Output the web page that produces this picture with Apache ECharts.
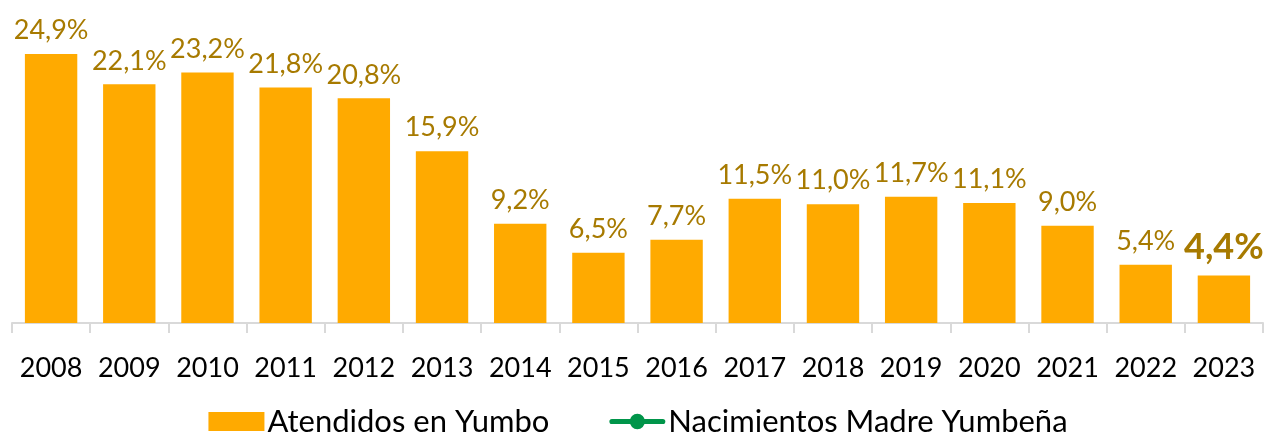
<!DOCTYPE html>
<html><head><meta charset="utf-8">
<script src="https://cdn.jsdelivr.net/npm/echarts@6/dist/echarts.min.js"></script>
<style>html,body{margin:0;padding:0;background:#fff}#c{width:1276px;height:442px}</style>
</head><body><div id="c"></div>
<script>
const years = ['2008','2009','2010','2011','2012','2013','2014','2015','2016','2017','2018','2019','2020','2021','2022','2023'];
const atendidos = [24.9,22.1,23.2,21.8,20.8,15.9,9.2,6.5,7.7,11.5,11.0,11.7,11.1,9.0,5.4,4.4];
const nacimientos = [];
const seriesNames = ['Atendidos en Yumbo','Nacimientos Madre Yumbeña'];

const FONT = 'Lato';
const LABEL_COLOR = '#A77A00';
const GREEN = '#00954A';
const fmt = v => v.toFixed(1).replace('.', ',') + '%';
const lineIcon = 'path://M3,7 L53,7 A2.5,2.5 0 0 1 53,12 L3,12 A2.5,2.5 0 0 1 3,7 Z M20.5,9.5 A7.5,7.5 0 1 1 35.5,9.5 A7.5,7.5 0 1 1 20.5,9.5 Z';

const chart = echarts.init(document.getElementById('c'));
chart.setOption({
  animation: false,
  textStyle: {fontFamily: FONT},
  grid: {left: 12, right: 13, top: 53, bottom: 119},
  xAxis: {
    type: 'category', data: years,
    axisLine: {lineStyle: {color: '#d9d9d9', width: 2}},
    axisTick: {show: true, length: 10, lineStyle: {color: '#d9d9d9', width: 2}},
    axisLabel: {color: '#000', fontSize: 27, margin: 32, interval: 0, fontFamily: FONT}
  },
  yAxis: {type: 'value', min: 0, max: 25, show: false, splitLine: {show: false}},
  legend: {
    bottom: 0, left: 'center', itemGap: 60, itemWidth: 56, itemHeight: 19,
    textStyle: {fontSize: 31, color: '#000', fontFamily: FONT, padding: [0, 0, 0, -2]},
    data: [
      {name: seriesNames[0], icon: 'rect'},
      {name: seriesNames[1], icon: lineIcon, itemStyle: {color: GREEN}}
    ]
  },
  series: [
    {
      name: seriesNames[0], type: 'bar', barCategoryGap: '33%',
      itemStyle: {color: '#FFAA00'},
      data: atendidos.map((v, i) => i === atendidos.length - 1 ? {
        value: v,
        label: {fontSize: 36, fontWeight: 'bold', distance: 10}
      } : v),
      label: {
        show: true, position: 'top', distance: 10,
        color: LABEL_COLOR, fontSize: 27, fontFamily: FONT,
        formatter: p => fmt(p.value)
      }
    },
    {
      name: seriesNames[1], type: 'line', data: nacimientos,
      symbol: 'circle', symbolSize: 12,
      itemStyle: {color: GREEN}, lineStyle: {color: GREEN, width: 6}
    }
  ]
});
</script></body></html>
